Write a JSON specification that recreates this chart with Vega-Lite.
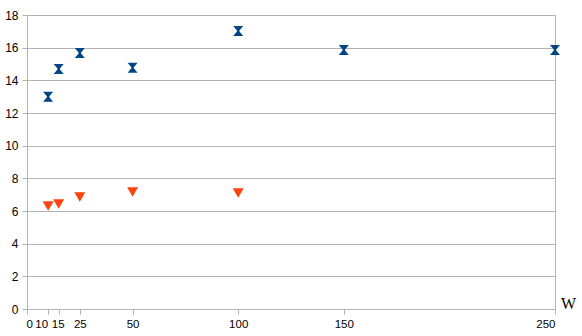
{
  "$schema": "https://vega.github.io/schema/vega-lite/v6.json",
  "autosize": {"type": "none"},
  "padding": {"left": 27, "top": 15, "right": 27, "bottom": 27},
  "width": 528,
  "height": 294,
  "background": "white",
  "config": {
    "view": {"stroke": "#b3b3b3", "strokeWidth": 1},
    "axis": {
      "labelFont": "Liberation Sans",
      "labelFontSize": 12,
      "labelColor": "#000000",
      "domainColor": "#b3b3b3",
      "tickColor": "#b3b3b3",
      "gridColor": "#b3b3b3",
      "tickSize": 5
    }
  },
  "data": {
    "values": [
      {"W": 10, "v": 13.0, "s": "A"},
      {"W": 15, "v": 14.7, "s": "A"},
      {"W": 25, "v": 15.68, "s": "A"},
      {"W": 50, "v": 14.77, "s": "A"},
      {"W": 100, "v": 17.02, "s": "A"},
      {"W": 150, "v": 15.86, "s": "A"},
      {"W": 250, "v": 15.85, "s": "A"},
      {"W": 10, "v": 6.3, "s": "B"},
      {"W": 15, "v": 6.43, "s": "B"},
      {"W": 25, "v": 6.86, "s": "B"},
      {"W": 50, "v": 7.16, "s": "B"},
      {"W": 100, "v": 7.1, "s": "B"}
    ]
  },
  "mark": {"type": "point", "filled": true, "opacity": 1},
  "encoding": {
    "x": {
      "field": "W", "type": "quantitative",
      "scale": {"domain": [0, 250], "nice": false, "zero": true},
      "axis": {
        "values": [0, 10, 15, 25, 50, 100, 150, 250],
        "grid": false,
        "labelPadding": 4,
        "labelFontSize": 11.5,
        "labelOverlap": false,
        "labelOffset": {
          "condition": [
            {"test": "datum.value == 10", "value": -7},
            {"test": "datum.value == 15", "value": -1},
            {"test": "datum.value == 0", "value": -1}
          ],
          "value": 0
        },
        "title": "W",
        "titleFont": "Liberation Serif",
        "titleFontWeight": "normal",
        "titleFontSize": 16,
        "titleColor": "#000000",
        "titleX": 541,
        "titleY": -6,
        "titleAlign": "center",
        "titleBaseline": "middle",
        "titleAngle": 0
      }
    },
    "y": {
      "field": "v", "type": "quantitative",
      "scale": {"domain": [0, 18], "nice": false},
      "axis": {
        "values": [0, 2, 4, 6, 8, 10, 12, 14, 16, 18],
        "grid": true,
        "title": null,
        "labelPadding": 4
      }
    },
    "size": {
      "field": "s", "type": "nominal",
      "scale": {"domain": ["A", "B"], "range": [100, 120]},
      "legend": null
    },
    "color": {
      "field": "s", "type": "nominal",
      "scale": {"domain": ["A", "B"], "range": ["#004586", "#ff420e"]},
      "legend": null
    },
    "shape": {
      "field": "s", "type": "nominal",
      "scale": {"domain": ["A", "B"], "range": ["M-1,-1L1,-1L0.25,-0.1L0.25,0.1L1,1L-1,1L-0.25,0.1L-0.25,-0.1Z", "triangle-down"]},
      "legend": null
    }
  }
}
